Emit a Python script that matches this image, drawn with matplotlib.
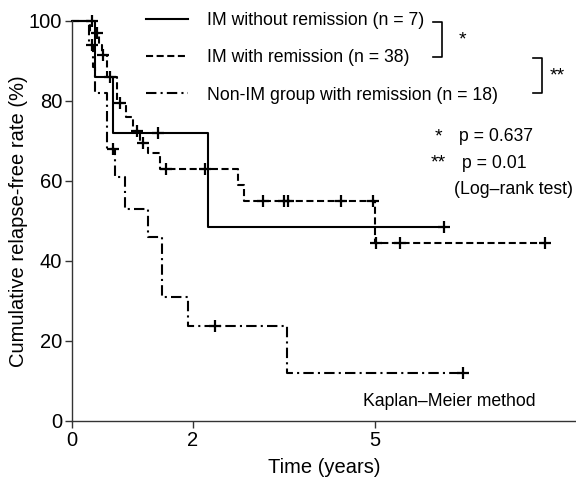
import numpy as np
import matplotlib
matplotlib.use("Agg")
import matplotlib.pyplot as plt

plt.rcParams['font.family'] = ['Liberation Sans', 'DejaVu Sans']

# IM without remission (n = 7)
no_rem_t = [0, 0.38, 0.68, 2.25, 6.15]
no_rem_s = [100, 86, 72, 48.4, 48.4]
no_rem_cens = [0.33, 1.42, 6.15]

# IM with remission (n = 38)
rem_t = [0, 0.30, 0.45, 0.49, 0.58, 0.75, 0.90, 1.00, 1.12, 1.26, 1.45, 2.74, 2.85, 5.00, 7.82]
rem_s = [100, 97, 94, 91.5, 86, 79.5, 76, 72.5, 69.6, 67, 63, 59, 55, 44.4, 44.4]
rem_cens = [0.41, 0.51, 0.63, 0.79, 1.07, 1.17, 1.55, 2.2,
            3.16, 3.5, 3.57, 4.45, 4.97, 5.03, 5.42, 7.82]

# Non-IM group with remission (n = 18)
non_t = [0, 0.28, 0.35, 0.38, 0.58, 0.71, 0.87, 1.26, 1.49, 1.92, 3.55, 6.46]
non_s = [100, 94, 88.5, 82, 68, 61, 53, 46, 31, 23.7, 12, 12]
non_cens = [0.33, 0.68, 2.36, 6.46]

labels = ["IM without remission (n = 7)",
          "IM with remission (n = 38)",
          "Non-IM group with remission (n = 18)"]


def level_at(t, s, c):
    # survival level of a step curve at time c
    i = np.searchsorted(t, c, side='right') - 1
    return np.array(s)[i]


W, H = 576, 479
fig = plt.figure(figsize=(W / 100, H / 100), dpi=100)
ax = fig.add_axes([72 / W, 1 - 421 / H, (576 - 72) / W, (421 - 21) / H])

lw = 1.5
styles = ['-', (0, (3.4, 1.7)), (0, (5, 2, 1, 2))]
curves = [(no_rem_t, no_rem_s, no_rem_cens),
          (rem_t, rem_s, rem_cens),
          (non_t, non_s, non_cens)]

handles = []
for (t, s, cens), ls, lab in zip(curves, styles, labels):
    h, = ax.step(t, s, where='post', color='black', lw=lw, ls=ls,
                 clip_on=False, label=lab)
    handles.append(h)
    cy = [level_at(t, s, c) for c in cens]
    ax.plot(cens, cy, ls='none', marker='+', ms=9, mew=1.6,
            color='black', clip_on=False)

ax.set_xlim(0, 8.33)
ax.set_ylim(0, 100)
ax.set_xticks([0, 2, 5])
ax.set_yticks([0, 20, 40, 60, 80, 100])
ax.tick_params(labelsize=14.5, length=5, width=1, color='#333333', pad=2)
for side in ['top', 'right']:
    ax.spines[side].set_visible(False)
for side in ['left', 'bottom']:
    ax.spines[side].set_linewidth(1)
    ax.spines[side].set_color('#333333')

ax.set_xlabel("Time (years)", fontsize=14.5, labelpad=6)
ax.set_ylabel("Cumulative relapse-free rate (%)", fontsize=14.5, labelpad=1)

fig.legend(handles=handles, loc='upper left',
           bbox_to_anchor=(146 / W, 1 - 12 / H), frameon=False,
           fontsize=12.7, handlelength=2.4, handletextpad=1.08,
           labelspacing=1.15, borderpad=0, borderaxespad=0)

# significance brackets
def px(x, y):
    return x / W, 1 - y / H

for x0, x1, y0, y1 in [(433, 442, 22, 57), (533, 542, 58, 93)]:
    xs, ys = zip(px(x0, y0), px(x1, y0), px(x1, y1), px(x0, y1))
    fig.add_artist(plt.Line2D(xs, ys, color='black', lw=1.2))

fig.text(*px(462, 40), "*", fontsize=14, ha='center', va='center')
fig.text(*px(557, 76), "**", fontsize=14, ha='center', va='center')

fig.text(*px(438, 137), "*", fontsize=14, ha='center', va='center')
fig.text(*px(459, 137), "p = 0.637", fontsize=12.7, ha='left', va='center')
fig.text(*px(438, 163), "**", fontsize=14, ha='center', va='center')
fig.text(*px(462, 163), "p = 0.01", fontsize=12.7, ha='left', va='center')
fig.text(*px(454, 189), "(Log\u2013rank test)", fontsize=12.7, ha='left', va='center')

fig.text(*px(363, 401), "Kaplan\u2013Meier method", fontsize=12.7, ha='left', va='center')

fig.savefig("out.png", dpi=100)
